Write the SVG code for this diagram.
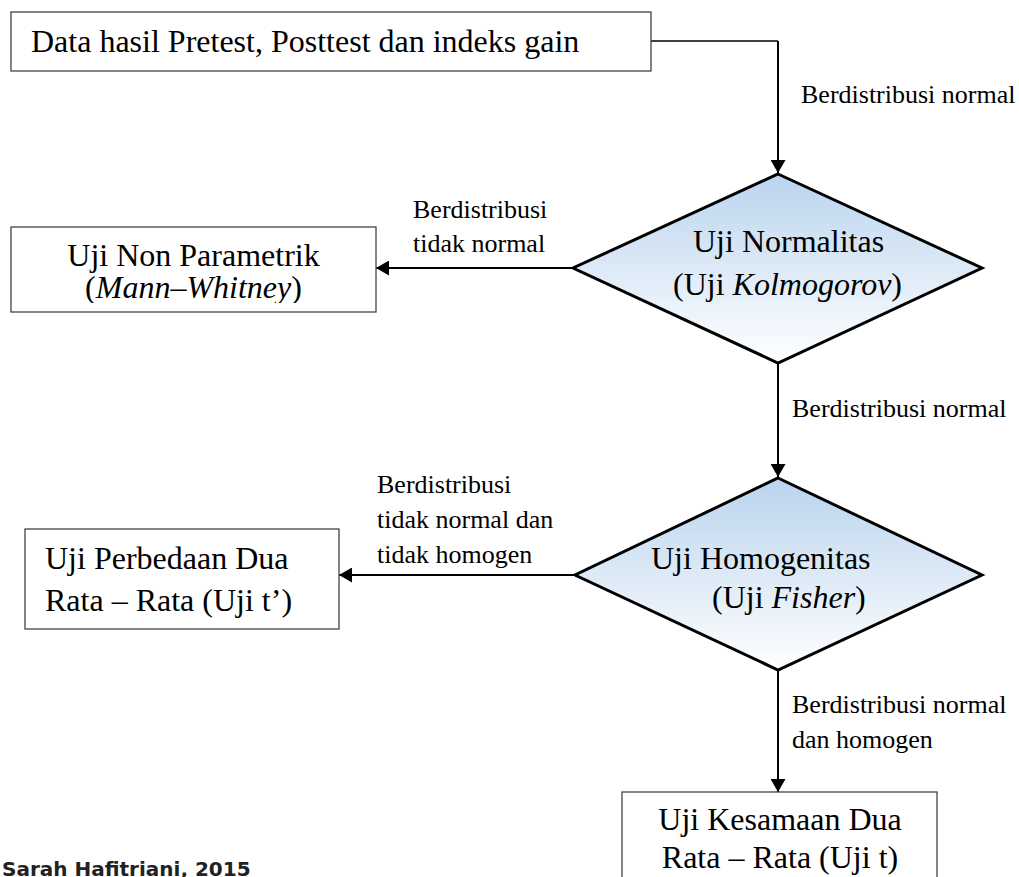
<svg xmlns="http://www.w3.org/2000/svg" width="1019" height="877" viewBox="0 0 1019 877">
  <defs>
    <linearGradient id="diamondFill" x1="0" y1="0" x2="0" y2="1">
      <stop offset="0" stop-color="#BAD4EE"/>
      <stop offset="1" stop-color="#FFFFFF"/>
    </linearGradient>
    <marker id="arrow" markerUnits="userSpaceOnUse" markerWidth="13" markerHeight="15" refX="13" refY="7.5" orient="auto">
      <path d="M0,0 L13,7.5 L0,15 z" fill="#000"/>
    </marker>
    <clipPath id="clipNonParam">
      <rect x="11" y="227" width="365" height="76"/>
    </clipPath>
  </defs>
  <style>
    .box { fill: #fff; stroke: #444; stroke-width: 1.3; }
    .decision { fill: url(#diamondFill); stroke: #000; stroke-width: 3; stroke-linejoin: miter; }
    .main { font-family: "Liberation Serif", "Times New Roman", serif; font-size: 32px; fill: #000; }
    .label { font-family: "Liberation Serif", "Times New Roman", serif; font-size: 26px; fill: #000; }
    .link { fill: none; stroke: #000; stroke-width: 2; marker-end: url(#arrow); }
    .credit { font-family: "DejaVu Sans", Verdana, sans-serif; font-weight: bold; font-size: 20px; fill: #222; }
  </style>

  <!-- connectors -->
  <g id="connectors">
    <path d="M651,41 H778" fill="none" stroke="#000" stroke-width="1.3"/>
    <path class="link" d="M778,41 V173"/>
    <path class="link" d="M573,268 H376"/>
    <path class="link" d="M778,363 V477"/>
    <path class="link" d="M575,575 H339"/>
    <path class="link" d="M778,670 V792"/>
  </g>

  <!-- connector labels -->
  <g id="labels">
    <text class="label" x="801" y="103">Berdistribusi normal</text>
    <text class="label" x="413" y="218">Berdistribusi</text>
    <text class="label" x="413" y="252">tidak normal</text>
    <text class="label" x="792" y="417">Berdistribusi normal</text>
    <text class="label" x="377" y="493">Berdistribusi</text>
    <text class="label" x="377" y="528">tidak normal dan</text>
    <text class="label" x="377" y="563">tidak homogen</text>
    <text class="label" x="792" y="713">Berdistribusi normal</text>
    <text class="label" x="792" y="748">dan homogen</text>
  </g>

  <!-- start: data -->
  <g id="node-data">
    <rect class="box" x="11" y="12" width="640" height="59"/>
    <text class="main" x="31" y="52">Data hasil Pretest, Posttest dan indeks gain</text>
  </g>

  <!-- decision: normality -->
  <g id="node-normalitas">
    <polygon class="decision" points="778,174 982,268 778,363 573,268"/>
    <text class="main" x="693" y="252">Uji Normalitas</text>
    <text class="main" x="673" y="295">(Uji <tspan font-style="italic">Kolmogorov</tspan>)</text>
  </g>

  <!-- non-parametric test -->
  <g id="node-nonparametrik">
    <rect class="box" x="11" y="227" width="365" height="85"/>
    <g clip-path="url(#clipNonParam)">
      <text class="main" x="193.5" y="266" text-anchor="middle">Uji Non Parametrik</text>
      <text class="main" x="193.5" y="298" text-anchor="middle">(<tspan font-style="italic">Mann–Whitney</tspan>)</text>
    </g>
  </g>

  <!-- decision: homogeneity -->
  <g id="node-homogenitas">
    <polygon class="decision" points="778,478 982,575 778,670 575,575"/>
    <text class="main" x="651" y="569">Uji Homogenitas</text>
    <text class="main" x="712" y="608">(Uji <tspan font-style="italic">Fisher</tspan>)</text>
  </g>

  <!-- t' test -->
  <g id="node-uji-t-aksen">
    <rect class="box" x="25" y="529" width="314" height="100"/>
    <text class="main" x="45" y="569">Uji Perbedaan Dua</text>
    <text class="main" x="45" y="611">Rata – Rata (Uji t’)</text>
  </g>

  <!-- t test -->
  <g id="node-uji-t">
    <rect class="box" x="622" y="792" width="315" height="100"/>
    <text class="main" x="780" y="830" text-anchor="middle">Uji Kesamaan Dua</text>
    <text class="main" x="780" y="868" text-anchor="middle">Rata – Rata (Uji t)</text>
  </g>

  <text class="credit" x="2" y="876">Sarah Hafitriani, 2015</text>
</svg>
